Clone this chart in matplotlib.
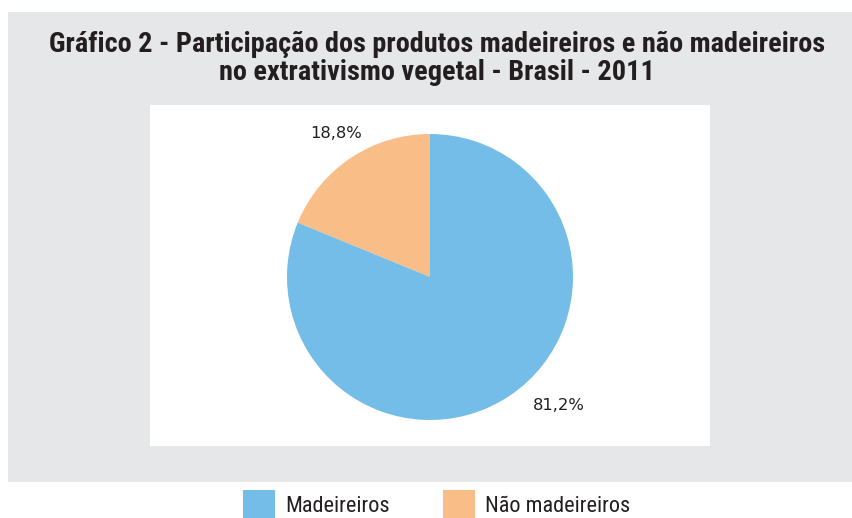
import matplotlib
matplotlib.use("Agg")
import matplotlib.pyplot as plt
from matplotlib.patches import Rectangle
from matplotlib import font_manager as fm

names = sorted({f.name for f in fm.fontManager.ttflist})
cands = ["Liberation Sans Narrow", "Roboto Condensed", "Open Sans Condensed", "DejaVu Sans Condensed"]
narrow = next((c for c in cands if c in names), None)
stretch = "normal"
if narrow is None:
    narrow = "DejaVu Sans"
    stretch = "condensed"

categories = ["Madeireiros", "Não madeireiros"]
values = [81.2, 18.8]
labels = ["81,2%", "18,8%"]
colors = ["#74bde8", "#f9bd87"]
title_lines = ["Gráfico 2 - Participação dos produtos madeireiros e não madeireiros",
               "no extrativismo vegetal - Brasil - 2011"]

W, H = 852, 518
fig = plt.figure(figsize=(W/100, H/100), dpi=100)
fig.patch.set_facecolor("white")

def fx(x): return x / W
def fy(y): return 1 - y / H

fig.patches.append(Rectangle((fx(8), fy(482)), fx(852) - fx(8), fy(12) - fy(482),
                             transform=fig.transFigure, facecolor="#e6e7e8", edgecolor="none", zorder=0))
fig.patches.append(Rectangle((fx(150), fy(446)), fx(710) - fx(150), fy(105) - fy(446),
                             transform=fig.transFigure, facecolor="white", edgecolor="none", zorder=1))

for i, line in enumerate(title_lines):
    fig.text(fx(437), fy(45 + 28 * i), line, ha="center", va="center", fontsize=20.3, fontweight="bold",
             family=narrow, fontstretch=stretch, color="#231f20")

r = 143
cx, cy = 430, 277
ax = fig.add_axes([fx(cx - r), fy(cy + r), 2 * r / W, 2 * r / H], zorder=5)
ax.patch.set_visible(False)
ax.pie([values[1], values[0]], colors=[colors[1], colors[0]], startangle=90, counterclock=True,
       wedgeprops=dict(linewidth=0), radius=1.0)
ax.set_xlim(-1, 1); ax.set_ylim(-1, 1)
ax.set_aspect("auto")
ax.axis("off")

fig.text(fx(336), fy(133), labels[1], ha="center", va="center", fontsize=11.8, color="#231f20")
fig.text(fx(559), fy(405), labels[0], ha="center", va="center", fontsize=11.8, color="#231f20")

for i, (cat, col) in enumerate(zip(categories, colors)):
    x0 = 243 + i * 200
    fig.patches.append(Rectangle((fx(x0), fy(518)), fx(32), fy(490) - fy(518),
                                 transform=fig.transFigure, facecolor=col, edgecolor="none"))
    fig.text(fx(x0 + 42), fy(507), cat, ha="left", va="center", fontsize=16, family=narrow,
             fontstretch=stretch, color="#231f20")

fig.savefig("out.png", dpi=100)
